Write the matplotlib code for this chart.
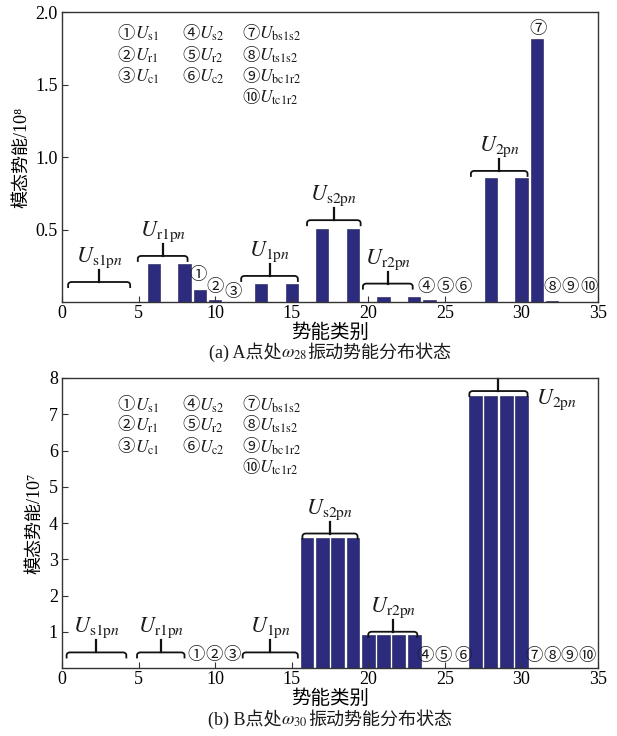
import numpy as np
import matplotlib
matplotlib.use('Agg')
import matplotlib.pyplot as plt
from matplotlib.offsetbox import TextArea, HPacker, AnnotationBbox

plt.rcParams['font.family'] = ['Liberation Serif', 'Noto Sans CJK SC']
plt.rcParams['mathtext.fontset'] = 'stix'
plt.rcParams['axes.unicode_minus'] = False

# potential energy categories 1..34
cats = list(range(1, 35))

# (a) point A, omega_28, unit 1e8
vals_a = [0, 0, 0, 0,
          0, 0.26, 0, 0.26,
          0.086, 0.012, 0,
          0, 0.122, 0, 0.122,
          0, 0.502, 0, 0.502,
          0, 0.035, 0, 0.035,
          0.012, 0, 0,
          0, 0.853, 0, 0.853,
          1.813, 0.008, 0, 0]

# (b) point B, omega_30, unit 1e7
vals_b = [0, 0, 0, 0,
          0, 0, 0, 0,
          0, 0, 0,
          0, 0, 0, 0,
          3.6, 3.6, 3.6, 3.6,
          0.9, 0.9, 0.9, 0.9,
          0, 0, 0,
          7.5, 7.5, 7.5, 7.5,
          0, 0, 0, 0]

legend_cols = [
    [('①', r'$U_{\mathrm{s1}}$'), ('②', r'$U_{\mathrm{r1}}$'), ('③', r'$U_{\mathrm{c1}}$')],
    [('④', r'$U_{\mathrm{s2}}$'), ('⑤', r'$U_{\mathrm{r2}}$'), ('⑥', r'$U_{\mathrm{c2}}$')],
    [('⑦', r'$U_{\mathrm{bs1s2}}$'), ('⑧', r'$U_{\mathrm{ts1s2}}$'),
     ('⑨', r'$U_{\mathrm{bc1r2}}$'), ('⑩', r'$U_{\mathrm{tc1r2}}$')],
]

# brace groups: label, x from, x to, height, label side
braces_a = [
    (r'$U_{\mathrm{s1p}n}$', 0.4, 4.45, 0.138, 'top'),
    (r'$U_{\mathrm{r1p}n}$', 4.95, 8.2, 0.318, 'top'),
    (r'$U_{\mathrm{1p}n}$', 11.7, 15.4, 0.18, 'top'),
    (r'$U_{\mathrm{s2p}n}$', 16.0, 19.5, 0.565, 'top'),
    (r'$U_{\mathrm{r2p}n}$', 19.65, 22.9, 0.127, 'top'),
    (r'$U_{\mathrm{2p}n}$', 26.7, 30.4, 0.905, 'top'),
]
braces_b = [
    (r'$U_{\mathrm{s1p}n}$', 0.3, 4.2, 0.43, 'top'),
    (r'$U_{\mathrm{r1p}n}$', 4.9, 8.0, 0.43, 'top'),
    (r'$U_{\mathrm{1p}n}$', 11.8, 15.4, 0.43, 'top'),
    (r'$U_{\mathrm{s2p}n}$', 15.7, 19.3, 3.71, 'top'),
    (r'$U_{\mathrm{r2p}n}$', 20.0, 23.2, 1.0, 'top'),
    (r'$U_{\mathrm{2p}n}$', 26.6, 30.4, 7.64, 'right'),
]

# circled single-item markers: text, x, y
marks_a = [('①', 8.9, 0.18), ('②', 10.0, 0.095), ('③', 11.15, 0.06),
           ('④', 23.8, 0.10), ('⑤', 25.0, 0.10), ('⑥', 26.2, 0.10),
           ('⑦', 31.06, 1.88),
           ('⑧', 32.0, 0.10), ('⑨', 33.2, 0.10), ('⑩', 34.4, 0.10)]
marks_b = [('①', 8.76, 0.32), ('②', 9.93, 0.32), ('③', 11.13, 0.32),
           ('④', 23.7, 0.30), ('⑤', 24.9, 0.30), ('⑥', 26.2, 0.30),
           ('⑦', 30.8, 0.30), ('⑧', 32.0, 0.30), ('⑨', 33.1, 0.30), ('⑩', 34.3, 0.30)]

bar_color = '#2d2b7e'
W, H = 617, 736


def packed(ax, parts, xy, coords, size, align=(0, 0.5)):
    boxes = [TextArea(p, textprops=dict(fontsize=size, color='#1a1a1a')) for p in parts]
    pack = HPacker(children=boxes, align='baseline', pad=0, sep=0)
    ab = AnnotationBbox(pack, xy, xycoords=coords, box_alignment=align,
                        frameon=False, pad=0, annotation_clip=False)
    ax.add_artist(ab)


def brace(ax, x0, x1, y, label, side):
    lo, hi = ax.get_ylim()
    ppu = ax.bbox.height / (hi - lo)
    hook = 6 / ppu
    spike = min(12 / ppu, hi - y)
    r = 0.22
    t = np.linspace(0, np.pi / 2, 8)
    left = np.column_stack([x0 + r - r * np.cos(t), y - hook * 0.45 * (1 - np.sin(t))])
    right = np.column_stack([x1 - r + r * np.cos(t[::-1]), y - hook * 0.45 * (1 - np.sin(t[::-1]))])
    xs = np.concatenate([[x0], left[:, 0], right[:, 0], [x1]])
    ys = np.concatenate([[y - hook], left[:, 1], right[:, 1], [y - hook]])
    ax.plot(xs, ys, color='#111111', lw=1.3, solid_capstyle='butt', clip_on=False)
    xm = (x0 + x1) / 2
    ax.plot([xm, xm], [y, y + spike], color='#111111', lw=1.6, clip_on=False)
    if side == 'top':
        ax.annotate(label, (xm, y + spike), xytext=(0, 0), textcoords='offset points',
                    ha='center', va='bottom', fontsize=16, color='#1a1a1a')
    else:
        ax.annotate(label, (x1, y), xytext=(6, -6), textcoords='offset points',
                    ha='left', va='center', fontsize=16, color='#1a1a1a')


def panel(ax, vals, width, ymax, yticks, ylabel, braces, marks, legend_rows):
    ax.bar(cats, vals, width=width, color=bar_color, edgecolor='#1c1b55', linewidth=0.4)
    ax.set_xlim(0, 35)
    ax.set_ylim(0, ymax)
    ax.set_xticks(range(0, 36, 5))
    ax.set_yticks(yticks)
    ax.tick_params(direction='in', length=4, width=0.8, labelsize=13, color='#333333')
    ax.tick_params(axis='y', pad=3)
    ax.tick_params(axis='x', pad=2)
    for s in ax.spines.values():
        s.set_color('#333333')
        s.set_linewidth(1.0)
    ax.set_ylabel(ylabel, fontsize=13, labelpad=4)
    ax.set_xlabel('势能类别', fontsize=14, labelpad=1)
    for lab, x0, x1, y, side in braces:
        brace(ax, x0, x1, y, lab, side)
    for txt, x, y in marks:
        ax.text(x, y, txt, ha='center', va='center', fontsize=12.5, color='#1a1a1a')
    col_x = [0.103, 0.224, 0.336]
    for cx, col in zip(col_x, legend_cols):
        for (c, u), ry in zip(col, legend_rows):
            packed(ax, [c, u], (cx, ry), 'axes fraction', 12.5)


fig = plt.figure(figsize=(W / 100, H / 100), dpi=100)
ax1 = fig.add_axes([62 / W, 1 - 302 / H, 536 / W, 289.7 / H])
ax2 = fig.add_axes([62 / W, 1 - 668 / H, 536 / W, 290 / H])

panel(ax1, vals_a, 0.8, 2.0, [0.5, 1.0, 1.5, 2.0], '模态势能/10⁸',
      braces_a, marks_a, [0.925, 0.85, 0.776, 0.705])
ax1.set_yticklabels(['0.5', '1.0', '1.5', '2.0'])
panel(ax2, vals_b, 0.84, 8, range(1, 9), '模态势能/10⁷',
      braces_b, marks_b, [0.905, 0.836, 0.761, 0.689])

packed(ax1, ['(a) A点处', r'$\omega_{28}$', '振动势能分布状态'],
       (330 / W, 1 - 352 / H), 'figure fraction', 13, align=(0.5, 0.5))
packed(ax2, ['(b) B点处', r'$\omega_{30}$', '振动势能分布状态'],
       (330 / W, 1 - 719 / H), 'figure fraction', 13, align=(0.5, 0.5))

fig.savefig('out.png', dpi=100)
